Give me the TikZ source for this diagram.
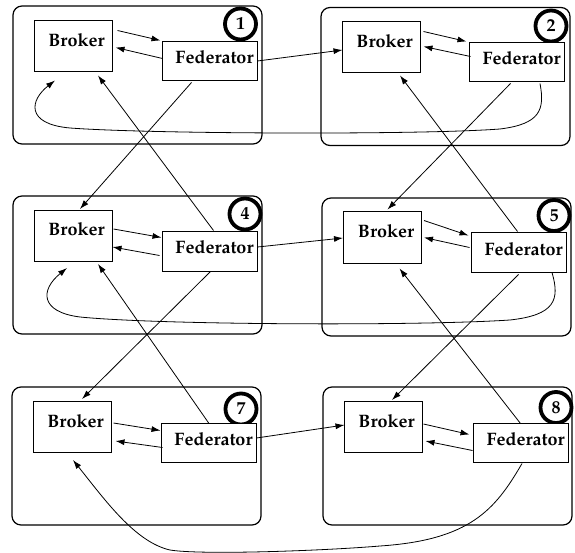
\documentclass[tikz,border=0pt]{standalone}
\usepackage[T1]{fontenc}
\renewcommand{\rmdefault}{ppl}
\usetikzlibrary{arrows.meta}
\begin{document}
\begin{tikzpicture}[x=1pt,y=-1pt,
  module/.style={draw, line width=1.2pt, rounded corners=9pt, minimum width=249pt, minimum height=138pt, inner sep=0pt},
  brokerbox/.style={draw, fill=white, line width=1pt, minimum width=78pt, minimum height=51pt, inner sep=0pt},
  fedbox/.style={draw, fill=white, line width=1pt, minimum width=95pt, minimum height=39pt, inner sep=0pt},
  tag/.style={circle, draw, line width=3.8pt, minimum size=31pt, inner sep=0pt, font=\fontsize{18}{20}\selectfont\bfseries},
  lbl/.style={anchor=base, inner sep=0pt, font=\fontsize{18}{20}\selectfont\bfseries},
  arr/.style={-{Latex[length=9pt,width=6pt]}, line width=0.8pt},
]
\useasboundingbox (0,0) rectangle (575,553);

% ---- module frames and number tags ----
\node[module] (m1) at (137.5,75) {};
\node[module] (m2) at (445.5,76.5) {};
\node[module] (m4) at (137.5,265) {};
\node[module] (m5) at (446.5,267) {};
\node[module] (m7) at (136.5,456) {};
\node[module] (m8) at (447.5,456) {};

\node[tag] (c1) at (240.5,24) {1};
\node[tag] (c2) at (551,26) {2};
\node[tag] (c4) at (245,214) {4};
\node[tag] (c5) at (554,215.5) {5};
\node[tag] (c7) at (241,409) {7};
\node[tag] (c8) at (556,407.5) {8};

% ---- brokers and federators ----
\node[brokerbox] (b1) at (73,46.5) {};
\node[brokerbox] (b2) at (381,47.5) {};
\node[brokerbox] (b4) at (73,236) {};
\node[brokerbox] (b5) at (382.5,237.5) {};
\node[brokerbox] (b7) at (72,427) {};
\node[brokerbox] (b8) at (383,427) {};

\node[fedbox] (f1) at (209.5,61.5) {};
\node[fedbox] (f2) at (516.5,62.5) {};
\node[fedbox] (f4) at (209.5,251.5) {};
\node[fedbox] (f5) at (518.5,252.5) {};
\node[fedbox] (f7) at (208.5,442.5) {};
\node[fedbox] (f8) at (520.5,442.5) {};

\foreach \n in {1,2,4,5,7,8}{
  \node[lbl] (b\n t) at ([shift={(3.5,26)}]b\n.north) {Broker};
  \node[lbl] (f\n t) at ([shift={(5,22.5)}]f\n.north) {Federator};
}

% ---- broker <-> federator inside each module ----
\draw[arr] ([shift={(5,10)}]b1.north east) -- ([shift={(-1,-1)}]f1.north west);
\draw[arr] ([shift={(1,17)}]f1.north west) -- ([shift={(3,27)}]b1.north east);
\draw[arr] ([shift={(3,10)}]b2.north east) -- ([shift={(-2,-1)}]f2.north west);
\draw[arr] ([shift={(2,14)}]f2.north west) -- ([shift={(3,25)}]b2.north east);
\draw[arr] ([shift={(1,19)}]b4.north east) -- ([shift={(0,6)}]f4.north west);
\draw[arr] ([shift={(-2,24)}]f4.north west) -- ([shift={(0,37)}]b4.north east);
\draw[arr] ([shift={(2,9)}]b5.north east) -- ([shift={(-2,3)}]f5.north west);
\draw[arr] ([shift={(-1,15)}]f5.north west) -- ([shift={(2,26)}]b5.north east);
\draw[arr] ([shift={(2,22)}]b7.north east) -- ([shift={(0,8)}]f7.north west);
\draw[arr] ([shift={(2,25)}]f7.north west) -- ([shift={(4,40)}]b7.north east);
\draw[arr] ([shift={(1,23)}]b8.north east) -- ([shift={(-3,12)}]f8.north west);
\draw[arr] ([shift={(0,28)}]f8.north west) -- ([shift={(3,40)}]b8.north east);

% ---- links between modules: same row ----
\draw[arr] ([shift={(0,-0.5)}]f1.east) -- ([shift={(1,2.5)}]b2.west);
\draw[arr] ([shift={(0,-4.5)}]f4.east) -- ([shift={(0,0.5)}]b5.west);
\draw[arr] ([shift={(0,-4.5)}]f7.east) -- ([shift={(1,-2)}]b8.west);

% ---- links between modules: crossing rows ----
\draw[arr] ([shift={(-18,1)}]f1.south) -- ([shift={(7,-1)}]b4.north);
\draw[arr] ([shift={(4,-1)}]f4.north) -- ([shift={(25,3)}]b1.south);
\draw[arr] ([shift={(-6,1)}]f2.south) -- ([shift={(5,-2)}]b5.north);
\draw[arr] ([shift={(-1,-1)}]f5.north) -- ([shift={(19,2)}]b2.south);
\draw[arr] ([shift={(1,0)}]f4.south) -- ([shift={(10,-2)}]b7.north);
\draw[arr] ([shift={(0.5,1)}]f7.north) -- ([shift={(25,2)}]b4.south);
\draw[arr] ([shift={(0,2)}]f5.south) -- ([shift={(9,-1)}]b8.north);
\draw[arr] ([shift={(0,1)}]f8.north) -- ([shift={(17,5)}]b5.south);

% ---- long return links ----
\draw[arr] ([shift={(23.5,1)}]f2.south)
  .. controls (545,110) and (540,124) .. (500,129)
  .. controls (420,135) and (150,134) .. (70,128)
  .. controls (25,124) and (30,100) .. ([shift={(-18,8)}]b1.south);
\draw[arr] ([shift={(33.5,0)}]f5.south)
  .. controls (560,300) and (555,315) .. (510,320)
  .. controls (420,326) and (160,325) .. (80,317)
  .. controls (40,312) and (40,290) .. ([shift={(-6,6)}]b4.south);
\draw[arr] ([shift={(1.5,1)}]f8.south)
  .. controls (495,510) and (470,540) .. (380,546)
  .. controls (320,551) and (200,555) .. (170,550)
  .. controls (135,542) and (105,500) .. ([shift={(1,7)}]b7.south);
\end{tikzpicture}
\end{document}
